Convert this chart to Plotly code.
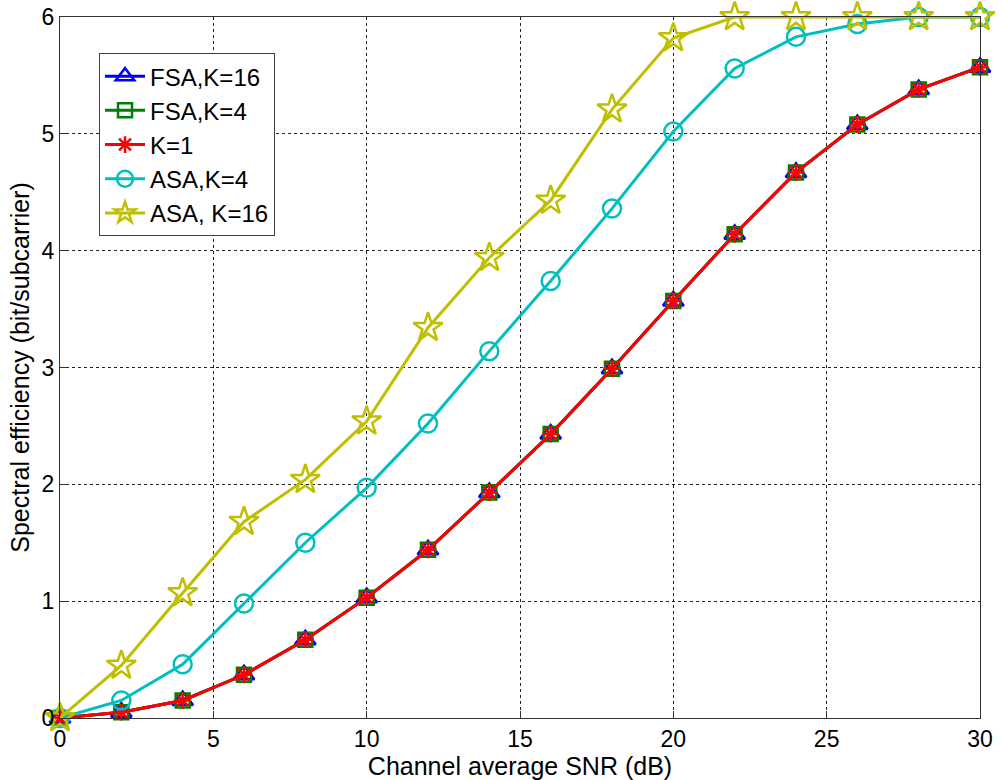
import plotly.graph_objects as go

snr = [0, 2, 4, 6, 8, 10, 12, 14, 16, 18, 20, 22, 24, 26, 28, 30]
fsa_k16 = [0, 0.05, 0.15, 0.37, 0.67, 1.03, 1.44, 1.93, 2.43, 2.99, 3.57, 4.14, 4.67, 5.08, 5.38, 5.57]
fsa_k4 = [0, 0.05, 0.15, 0.37, 0.67, 1.03, 1.44, 1.93, 2.43, 2.99, 3.57, 4.14, 4.67, 5.08, 5.38, 5.57]
k1 = [0, 0.05, 0.15, 0.37, 0.67, 1.03, 1.44, 1.93, 2.43, 2.99, 3.57, 4.14, 4.67, 5.08, 5.38, 5.57]
asa_k4 = [0, 0.15, 0.46, 0.98, 1.50, 1.97, 2.52, 3.14, 3.74, 4.36, 5.02, 5.56, 5.83, 5.94, 6.0, 6.0]
asa_k16 = [0, 0.45, 1.07, 1.68, 2.04, 2.54, 3.34, 3.94, 4.43, 5.21, 5.82, 6.0, 6.0, 6.0, 6.0, 6.0]

series = [
    ("FSA,K=16", fsa_k16, "#0000FF", "triangle-up-open", 18),
    ("FSA,K=4", fsa_k4, "#008000", "square-open", 14),
    ("K=1", k1, "#FF0000", "asterisk-open", 14),
    ("ASA,K=4", asa_k4, "#00BFBF", "circle-open", 18),
    ("ASA, K=16", asa_k16, "#BFBF00", "star-open", 22),
]

fig = go.Figure()
for name, ys, color, sym, size in series:
    fig.add_trace(go.Scatter(
        x=snr, y=ys, name=name, mode="lines+markers", cliponaxis=False,
        line=dict(color=color, width=3),
        marker=dict(symbol=sym, size=size, color=color, line=dict(color=color, width=2.5)),
    ))

axis_common = dict(
    showline=True, linecolor="#333333", linewidth=1, mirror=True,
    ticks="inside", ticklen=7, tickcolor="#333333",
    showgrid=True, gridcolor="#222222", griddash="dot", gridwidth=1,
    zeroline=False, automargin=False, ticklabeloverflow="allow",
    tickfont=dict(family="Arial, Liberation Sans", size=23, color="black"),
)

fig.update_layout(
    width=1002, height=780,
    margin=dict(l=60, r=22, t=17, b=62),
    paper_bgcolor="white", plot_bgcolor="white",
    font=dict(family="Arial, Liberation Sans", color="black"),
    xaxis=dict(range=[0, 30], tickvals=[0, 5, 10, 15, 20, 25, 30],
               title=dict(text="Channel average SNR (dB)", font=dict(size=25), standoff=0),
               **axis_common),
    yaxis=dict(range=[0, 6], tickvals=[0, 1, 2, 3, 4, 5, 6],
               title=dict(text="Spectral efficiency (bit/subcarrier)", font=dict(size=25), standoff=4),
               **axis_common),
    legend=dict(x=0.0424, y=0.9486, xanchor="left", yanchor="top",
                bgcolor="white", bordercolor="#404040", borderwidth=1,
                font=dict(family="Arial, Liberation Sans", size=24, color="black"),
                tracegroupgap=0, itemwidth=40),
    showlegend=True,
)

fig.write_html("out.html", config={"displayModeBar": False},
               post_script="document.body.style.margin='0';")
